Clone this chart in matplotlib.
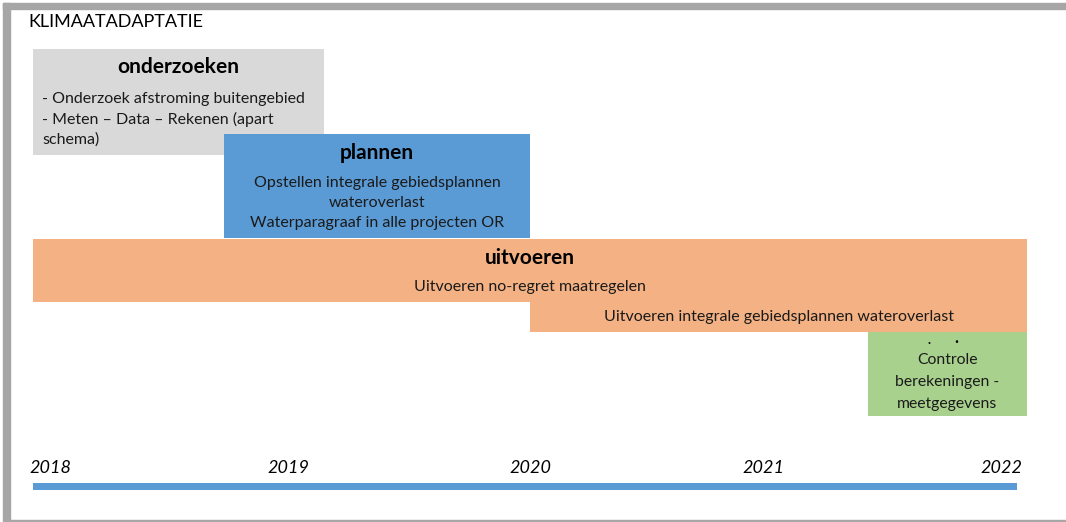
import matplotlib
matplotlib.use("Agg")
import matplotlib.pyplot as plt
from matplotlib.patches import Rectangle

plt.rcParams['font.family'] = ['Lato', 'DejaVu Sans']

# ---- data ----
title = "KLIMAATADAPTATIE"
years = [2018, 2019, 2020, 2021, 2022]
year_labels = ["2018", "2019", "2020", "2021", "2022"]
timeline_start, timeline_end = 2018.0, 2021.96

phases = ["onderzoeken", "plannen", "uitvoeren", "uitvoeren (2)", "controle"]
phase_start = [2018.0, 2018.77, 2018.0, 2020.0, 2021.36]
phase_end = [2019.17, 2020.0, 2022.0, 2022.0, 2022.0]
phase_colors = ["#D9D9D9", "#5B9BD5", "#F4B183", "#F4B183", "#A9D18E"]

onderzoeken_lines = ["- Onderzoek afstroming buitengebied",
                     "- Meten \u2013 Data \u2013 Rekenen (apart",
                     "schema)"]
plannen_lines = ["Opstellen integrale gebiedsplannen",
                 "wateroverlast",
                 "Waterparagraaf in alle projecten OR"]
uitvoeren_line1 = "Uitvoeren no-regret maatregelen"
uitvoeren_line2 = "Uitvoeren integrale gebiedsplannen wateroverlast"
controle_lines = ["Controle", "berekeningen -", "meetgegevens"]

# ---- layout (pixel rows) ----
W, H = 1066, 522
fig = plt.figure(figsize=(W / 100, H / 100), dpi=100)
ax = fig.add_axes([0, 0, 1, 1])
px_per_year = 248.5
x0_year = 2018 - 33 / px_per_year
ax.set_xlim(x0_year, x0_year + W / px_per_year)
ax.set_ylim(H, 0)
ax.axis('off')

def X(px):
    return x0_year + px / px_per_year

# frame
fig.patches.append(Rectangle((3 / W, 1 - 9 / H), 1 - 3 / W, 6 / H, transform=fig.transFigure,
                             color="#A6A6A6", zorder=0))
fig.patches.append(Rectangle((3 / W, 1 - 520 / H), 7 / W, 517 / H, transform=fig.transFigure,
                             color="#A6A6A6", zorder=0))
fig.patches.append(Rectangle((3 / W, 1 - 521 / H), 1 - 3 / W, 1.5 / H, transform=fig.transFigure,
                             color="#A6A6A6", zorder=0))

# phase boxes: (top, height) in pixels
rows = [(49, 106), (134, 104), (239, 63), (302, 30), (332, 84)]
for s, e, c, (top, h) in zip(phase_start, phase_end, phase_colors, rows):
    ax.barh(top + h / 2, e - s, left=s, height=h, color=c, edgecolor='none', zorder=2)

body = 11.5
head = 15
txtc = '#1a1a1a'

# title
ax.text(X(28), 22, title, fontsize=13, va='center', ha='left', color='black')

# onderzoeken
cx = (phase_start[0] + phase_end[0]) / 2
ax.text(cx, 67, "onderzoeken", fontsize=head, fontweight='bold', ha='center', va='center', zorder=3)
for i, ln in enumerate(onderzoeken_lines):
    ax.text(X(42), 99 + 20.5 * i, ln, fontsize=body, ha='left', va='center', zorder=3, color=txtc)

# plannen
cx = (phase_start[1] + phase_end[1]) / 2
ax.text(cx, 153, "plannen", fontsize=head, fontweight='bold', ha='center', va='center', zorder=3)
for i, ln in enumerate(plannen_lines):
    ax.text(cx, 183 + 20 * i, ln, fontsize=body, ha='center', va='center', zorder=3, color=txtc)

# uitvoeren
ax.text(2020.0, 258, "uitvoeren", fontsize=head, fontweight='bold', ha='center', va='center', zorder=3)
ax.text(2020.0, 287, uitvoeren_line1, fontsize=body, ha='center', va='center', zorder=3, color=txtc)
cx = (phase_start[3] + phase_end[3]) / 2
ax.text(cx, 317, uitvoeren_line2, fontsize=body, ha='center', va='center', zorder=3, color=txtc)

# controle
cx = (phase_start[4] + phase_end[4]) / 2
ax.text(X(929), 340, ".", fontsize=9, fontweight='bold', ha='center', va='center', zorder=3)
ax.text(X(956), 338, ".", fontsize=12, fontweight='bold', ha='center', va='center', zorder=3)
for i, ln in enumerate(controle_lines):
    ax.text(cx, 360 + 22 * i, ln, fontsize=11.3, ha='center', va='center', zorder=3, color=txtc)

# timeline
ax.barh(486.5, timeline_end - timeline_start, left=timeline_start, height=7,
        color="#5B9BD5", edgecolor='none', zorder=2)
label_offsets = [0.0, 0.03, 0.0, -0.06, 0.0]
for yr, lab, off in zip(years, year_labels, label_offsets):
    ha = 'left' if yr == years[0] else ('right' if yr == years[-1] else 'center')
    xpos = yr + off if ha == 'center' else (X(29) if ha == 'left' else X(1022))
    ax.text(xpos, 468, lab, fontsize=13, fontstyle='italic', ha=ha, va='center', zorder=3)

fig.savefig("out.png", dpi=100)
